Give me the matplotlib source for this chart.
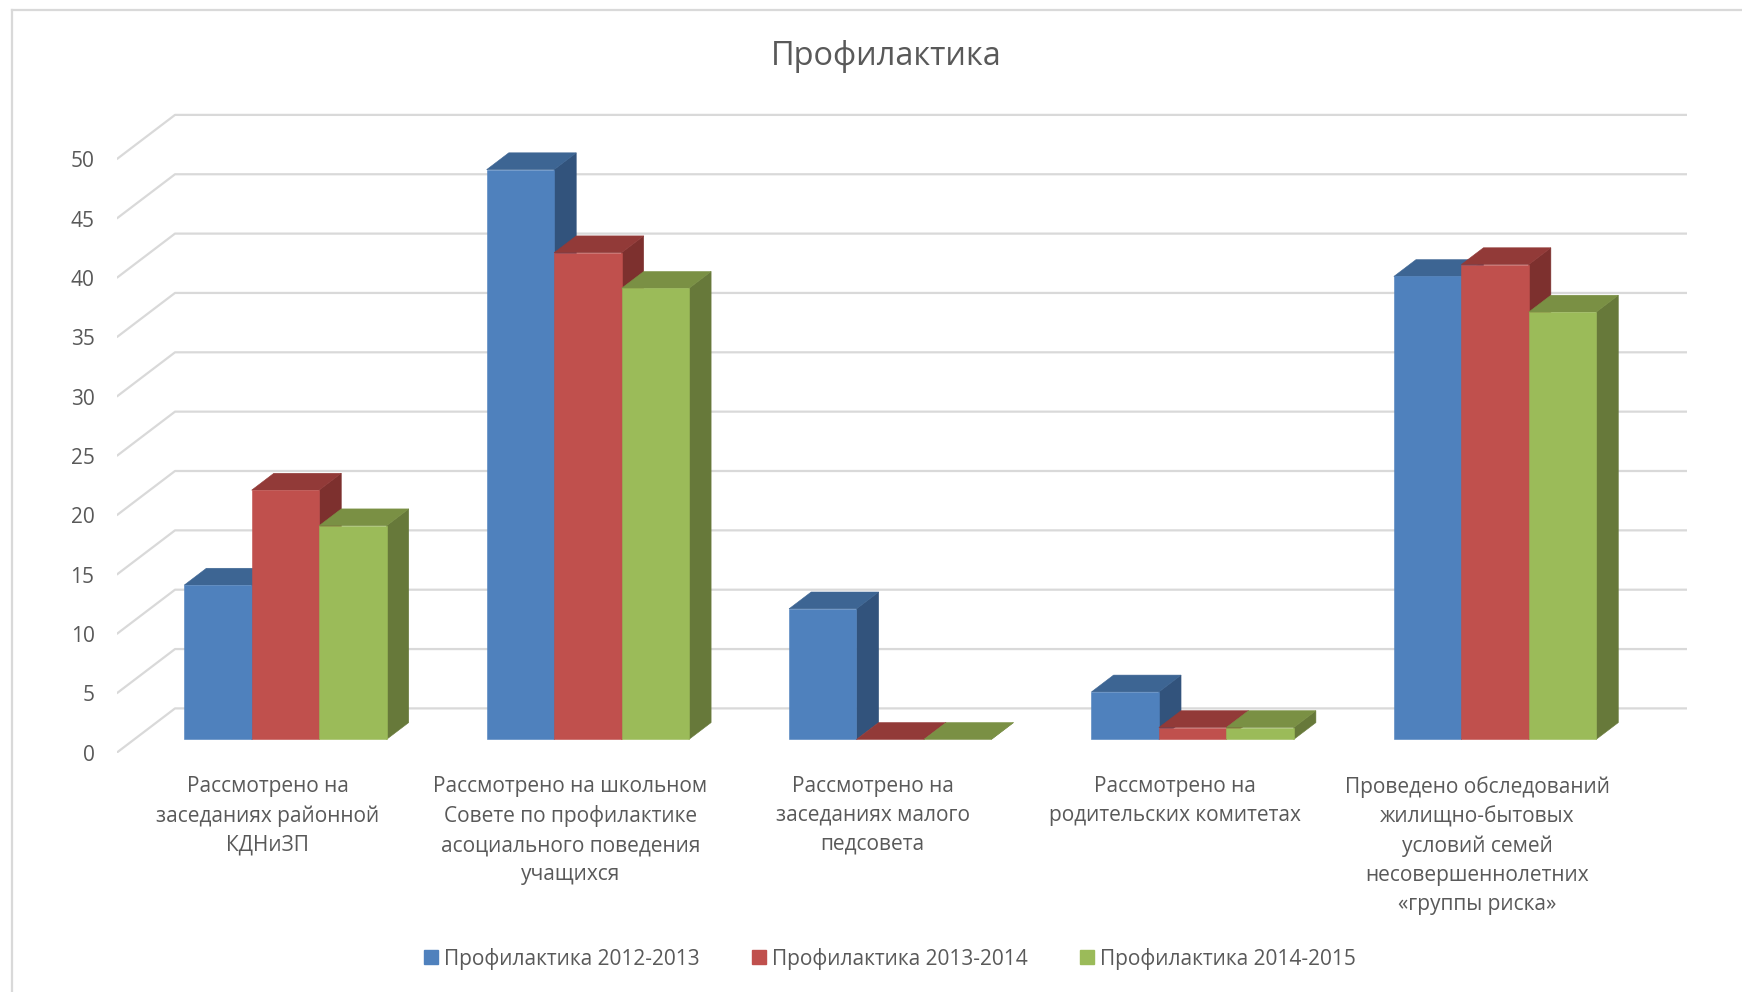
import matplotlib
matplotlib.use("Agg")
import matplotlib.pyplot as plt
from matplotlib.patches import Polygon, Patch
from matplotlib.lines import Line2D

# ---------------- data ----------------
categories = [
    "Рассмотрено на\nзаседаниях районной\nКДНиЗП",
    "Рассмотрено на школьном\nСовете по профилактике\nасоциального поведения\nучащихся",
    "Рассмотрено на\nзаседаниях малого\nпедсовета",
    "Рассмотрено на\nродительских комитетах",
    "Проведено обследований\nжилищно-бытовых\nусловий семей\nнесовершеннолетних\n«группы риска»",
]
series_names = ["Профилактика 2012-2013", "Профилактика 2013-2014", "Профилактика 2014-2015"]
values_2012_2013 = [13, 48, 11, 4, 39]
values_2013_2014 = [21, 41, 0, 1, 40]
values_2014_2015 = [18, 38, 0, 1, 36]
y_ticks = [0, 5, 10, 15, 20, 25, 30, 35, 40, 45, 50]
title = "Профилактика"

# ---------------- style ----------------
front_colors = ["#4F81BD", "#C0504D", "#9BBB59"]
top_colors = ["#3D6593", "#923A38", "#7A9044"]
side_colors = ["#32537C", "#7D302E", "#67793A"]
text_color = "#595959"
grid_color = "#D9D9D9"

plt.rcParams["font.family"] = ["Open Sans", "DejaVu Sans"]

W, H = 1742, 992
fig = plt.figure(figsize=(W / 100, H / 100), dpi=100)

# oblique-projection geometry (pixels of the reference)
x_left = 116.7
cat_px = 302.4
depth_px_x = 58.3
depth_px_y = 44.3
y0_px = 752.7
unit_px = 11.87
vmax = 55
n_cat = len(categories)

depth_x = depth_px_x / cat_px
depth_y = depth_px_y / unit_px

ax = fig.add_axes([x_left / W, (H - y0_px) / H,
                   (n_cat * cat_px + depth_px_x) / W, vmax * unit_px / H])
ax.set_xlim(0, n_cat + depth_x)
ax.set_ylim(0, vmax)
for sp in ax.spines.values():
    sp.set_visible(False)
ax.set_xticks([])
ax.set_yticks(y_ticks)
ax.set_yticklabels([str(t) for t in y_ticks])
ax.tick_params(axis="y", length=0, pad=16.0, labelsize=15, labelcolor=text_color)
ax.patch.set_visible(False)

# gridlines: diagonal on the left + back wall
for v in y_ticks:
    ax.plot([0, depth_x, n_cat + depth_x], [v, v + depth_y, v + depth_y],
            color=grid_color, lw=1.6, zorder=1, solid_capstyle="butt")

# bars
series = [values_2012_2013, values_2013_2014, values_2014_2015]
bar_w = 0.223
f0 = 0.30     # depth fraction of bar front face
thick = 0.38  # depth fraction of bar thickness
ddx = thick * depth_x
ddy = thick * depth_y
for i in range(n_cat):
    for s, vals in enumerate(series):
        val = vals[i]
        x = i + 0.5 - 1.5 * bar_w + s * bar_w + f0 * depth_x
        base = f0 * depth_y
        top = base + val
        side = [(x + bar_w, base), (x + bar_w + ddx, base + ddy),
                (x + bar_w + ddx, top + ddy), (x + bar_w, top)]
        topf = [(x, top), (x + bar_w, top), (x + bar_w + ddx, top + ddy), (x + ddx, top + ddy)]
        front = [(x, base), (x + bar_w, base), (x + bar_w, top), (x, top)]
        ax.add_patch(Polygon(side, closed=True, facecolor=side_colors[s],
                             edgecolor=side_colors[s], lw=0.4, zorder=2))
        ax.add_patch(Polygon(topf, closed=True, facecolor=top_colors[s],
                             edgecolor=top_colors[s], lw=0.4, zorder=2))
        if val > 0:
            ax.add_patch(Polygon(front, closed=True, facecolor=front_colors[s],
                                 edgecolor=front_colors[s], lw=0.4, zorder=2))

# category labels
for i, lab in enumerate(categories):
    ax.text(i + 0.5, -1.95, lab, ha="center", va="top", fontsize=15,
            color=text_color, linespacing=1.50, clip_on=False)

# title
fig.text(886 / W, 1 - 65 / H, title, ha="center", va="baseline",
         fontsize=23.4, color=text_color)

# legend
handles = [Patch(facecolor=c, edgecolor=c) for c in front_colors]
fig.legend(handles=handles, labels=series_names, loc="center",
           bbox_to_anchor=(890 / W, 1 - 958.7 / H), ncol=3, frameon=False,
           fontsize=15, handlelength=0.67, handleheight=0.67,
           handletextpad=0.3, columnspacing=2.5, labelcolor=text_color)

# chart frame (left and top border)
fig.add_artist(Line2D([11.7 / W, 11.7 / W], [0, 1 - 10 / H],
                      transform=fig.transFigure, color=grid_color, lw=1.6))
fig.add_artist(Line2D([11.7 / W, 1], [1 - 10 / H, 1 - 10 / H],
                      transform=fig.transFigure, color=grid_color, lw=1.6))

fig.savefig("out.png", dpi=100)
